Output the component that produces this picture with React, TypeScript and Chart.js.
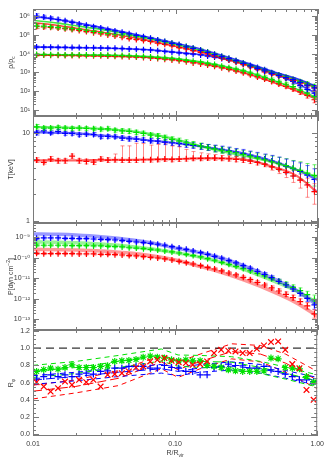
import React, { useEffect, useRef } from 'react';
import { Chart, registerables } from 'chart.js';

Chart.register(...registerables);

// ---------------- data ----------------
const radius = [0.0106, 0.0119, 0.0133, 0.0150, 0.0168, 0.0188, 0.0211, 0.0237, 0.0266, 0.0299,
  0.0335, 0.0376, 0.0422, 0.0473, 0.0531, 0.0596, 0.0668, 0.0750, 0.0841, 0.0944,
  0.106, 0.119, 0.133, 0.150, 0.168, 0.188, 0.211, 0.237, 0.266, 0.299,
  0.335, 0.376, 0.422, 0.473, 0.531, 0.596, 0.668, 0.750, 0.841, 0.944];
const modelRadius = [0.01, 0.015, 0.02, 0.03, 0.05, 0.07, 0.1, 0.15, 0.2, 0.3, 0.5, 0.7, 1.0];
const ratioModelRadius = [0.01, 0.02, 0.04, 0.08, 0.105, 0.15, 0.25, 0.4, 0.6, 1.0];
const xTickValues = [0.01, 0.1, 1.0];

// panel 1: density
const densUpperBlue = [1.0e6, 8.7e5, 7.6e5, 6.5e5, 5.5e5, 4.6e5, 3.7e5, 3.2e5, 2.7e5, 2.3e5,
  1.9e5, 1.6e5, 1.35e5, 1.12e5, 9.3e4, 7.9e4, 6.5e4, 5.2e4, 4.4e4, 3.5e4,
  3.0e4, 2.3e4, 1.9e4, 1.5e4, 1.15e4, 8.9e3, 6.9e3, 5.4e3, 4.2e3, 3.0e3,
  2.2e3, 1.6e3, 1.2e3, 890, 690, 525, 410, 295, 210, 150];
const densUpperGreen = [3.0e5, 2.9e5, 2.7e5, 2.5e5, 2.3e5, 2.1e5, 1.95e5, 1.74e5, 1.5e5, 1.32e5,
  1.17e5, 1.07e5, 9.8e4, 8.9e4, 7.9e4, 7.1e4, 6.2e4, 5.1e4, 4.3e4, 3.5e4,
  2.9e4, 2.4e4, 1.95e4, 1.55e4, 1.2e4, 9.1e3, 7.1e3, 5.4e3, 4.1e3, 3.1e3,
  2.2e3, 1.66e3, 1.26e3, 930, 720, 560, 420, 320, 240, 174];
const densUpperRed = [2.75e5, 2.6e5, 2.5e5, 2.3e5, 2.1e5, 1.9e5, 1.7e5, 1.48e5, 1.29e5, 1.12e5,
  9.8e4, 8.5e4, 7.4e4, 6.3e4, 5.6e4, 5.0e4, 4.4e4, 3.6e4, 3.1e4, 2.6e4,
  2.1e4, 1.78e4, 1.45e4, 1.17e4, 9.5e3, 7.4e3, 5.8e3, 4.5e3, 3.5e3, 2.6e3,
  1.95e3, 1.45e3, 1.07e3, 810, 650, 500, 380, 280, 205, 148];
const densLowerBlue = [2.24e4, 2.19e4, 2.19e4, 2.14e4, 2.14e4, 2.09e4, 2.09e4, 2.04e4, 2.04e4, 2.0e4,
  1.95e4, 1.9e4, 1.86e4, 1.78e4, 1.7e4, 1.62e4, 1.55e4, 1.41e4, 1.29e4, 1.2e4,
  1.1e4, 1.0e4, 9.3e3, 8.5e3, 7.4e3, 6.5e3, 5.5e3, 4.6e3, 3.7e3, 3.0e3,
  2.3e3, 1.8e3, 1.38e3, 950, 690, 500, 330, 200, 126, 79];
const densLowerGreen = [8.9e3, 8.9e3, 8.7e3, 8.7e3, 8.5e3, 8.5e3, 8.5e3, 8.3e3, 8.3e3, 8.3e3,
  8.1e3, 7.9e3, 7.8e3, 7.6e3, 7.2e3, 6.9e3, 6.6e3, 6.2e3, 5.75e3, 5.4e3,
  4.9e3, 4.4e3, 3.9e3, 3.5e3, 2.95e3, 2.6e3, 2.14e3, 1.78e3, 1.48e3, 1.2e3,
  930, 720, 550, 410, 310, 234, 174, 115, 79, 52];
const densLowerRed = [8.3e3, 8.3e3, 8.1e3, 8.1e3, 7.9e3, 7.9e3, 7.8e3, 7.8e3, 7.6e3, 7.6e3,
  7.4e3, 7.2e3, 7.1e3, 6.8e3, 6.5e3, 6.2e3, 5.9e3, 5.5e3, 5.0e3, 4.6e3,
  4.2e3, 3.7e3, 3.2e3, 2.8e3, 2.45e3, 2.1e3, 1.74e3, 1.45e3, 1.17e3, 950,
  740, 575, 440, 330, 245, 182, 132, 91, 60, 35];
const densErrUpper = [0.3, 0.25, 0.22, 0.2, 0.18, 0.16, 0.15, 0.14, 0.13, 0.12,
  0.12, 0.12, 0.12, 0.12, 0.12, 0.12, 0.12, 0.12, 0.12, 0.12,
  0.12, 0.12, 0.12, 0.14, 0.14, 0.14, 0.14, 0.14, 0.15, 0.15,
  0.16, 0.16, 0.18, 0.18, 0.2, 0.22, 0.24, 0.26, 0.3, 0.35];
const densErrLower = [0.12, 0.1, 0.1, 0.1, 0.1, 0.1, 0.1, 0.1, 0.1, 0.1,
  0.1, 0.1, 0.1, 0.1, 0.1, 0.1, 0.1, 0.1, 0.1, 0.1,
  0.1, 0.1, 0.1, 0.1, 0.12, 0.12, 0.12, 0.13, 0.14, 0.15,
  0.16, 0.18, 0.2, 0.22, 0.24, 0.26, 0.3, 0.35, 0.4, 0.45];
const densModelUpperBlue = [9.6e5, 6.4e5, 4.5e5, 2.47e5, 1.13e5, 6.6e4, 3.6e4, 1.77e4, 9.3e3, 3.7e3, 1.03e3, 483, 171];
const densModelUpperGreen = [5.9e5, 4.15e5, 3.0e5, 1.94e5, 9.6e4, 5.6e4, 3.1e4, 1.5e4, 7.9e3, 3.16e3, 950, 430, 158];
const densModelUpperRed = [4.5e5, 3.14e5, 2.24e5, 1.41e5, 7.3e4, 4.4e4, 2.43e4, 1.23e4, 6.5e3, 2.7e3, 813, 380, 140];
const densModelLowerBlue = [2.24e4, 2.15e4, 2.07e4, 2.0e4, 1.77e4, 1.54e4, 1.18e4, 8.9e3, 6.2e3, 3.04e3, 813, 276, 68];
const densModelLowerGreen = [8.9e3, 8.6e3, 8.4e3, 8.3e3, 7.6e3, 6.8e3, 5.5e3, 3.7e3, 2.5e3, 1.21e3, 351, 134, 42];
const densModelLowerRed = [8.3e3, 8.1e3, 7.9e3, 7.6e3, 6.8e3, 6.0e3, 4.7e3, 3.04e3, 2.04e3, 950, 276, 106, 35];
const densTicks = [1e1, 1e2, 1e3, 1e4, 1e5, 1e6];

// panel 2: temperature
const tempGreen = [11.7, 11.3, 11.3, 11.5, 11.3, 11.2, 11.3, 11.2, 11.1, 11.0,
  11.1, 10.7, 10.5, 10.4, 10.1, 9.84, 9.42, 9.18, 8.79, 8.41,
  8.06, 7.71, 7.38, 7.07, 6.83, 6.59, 6.37, 6.15, 5.94, 5.69,
  5.45, 5.21, 4.95, 4.70, 4.46, 4.24, 3.98, 3.75, 3.50, 3.29];
const tempBlue = [10.0, 10.5, 10.0, 10.4, 9.84, 9.84, 9.5, 9.67, 9.59, 9.02,
  9.1, 9.02, 8.71, 8.55, 8.49, 8.27, 8.12, 8.06, 7.85, 7.71,
  7.58, 7.38, 7.19, 7.01, 6.83, 6.65, 6.48, 6.26, 6.04, 5.84,
  5.54, 5.31, 5.04, 4.78, 4.50, 4.20, 3.92, 3.65, 3.32, 2.96];
const tempRed = [4.91, 4.62, 5.04, 4.82, 4.82, 5.45, 4.82, 4.74, 4.66, 5.04,
  4.91, 4.95, 4.91, 4.91, 4.91, 4.95, 4.95, 4.99, 5.04, 4.99,
  5.04, 5.08, 5.13, 5.13, 5.17, 5.17, 5.13, 5.08, 4.99, 4.91,
  4.78, 4.62, 4.42, 4.12, 3.85, 3.56, 3.24, 2.91, 2.56, 2.15];
const tempErr = [0.06, 0.05, 0.05, 0.05, 0.05, 0.05, 0.05, 0.05, 0.05, 0.05,
  0.05, 0.05, 0.06, 0.06, 0.06, 0.06, 0.06, 0.07, 0.07, 0.07,
  0.08, 0.08, 0.08, 0.08, 0.08, 0.09, 0.09, 0.1, 0.1, 0.11,
  0.12, 0.13, 0.14, 0.16, 0.18, 0.2, 0.22, 0.25, 0.28, 0.32];
const tempErrRedUp = [0.3, 0.3, 0.35, 0.3, 0.3, 0.3, 0.3, 0.3, 0.3, 0.3,
  0.3, 0.8, 2.2, 2.2, 2.7, 2.6, 2.3, 2.4, 2.6, 2.1,
  1.9, 1.4, 1.0, 0.8, 0.6, 0.5, 0.4, 0.4, 0.4, 0.4,
  0.4, 0.5, 0.5, 0.5, 0.5, 0.5, 0.5, 0.5, 0.5, 0.5];
const tempErrRedDown = [0.3, 0.2, 0.3, 0.3, 0.3, 0.3, 0.3, 0.3, 0.3, 0.3,
  0.3, 0.3, 0.3, 0.3, 0.3, 0.3, 0.3, 0.3, 0.3, 0.3,
  0.3, 0.3, 0.3, 0.3, 0.3, 0.3, 0.3, 0.3, 0.3, 0.3,
  0.3, 0.3, 0.3, 0.35, 0.4, 0.45, 0.5, 0.55, 0.7, 0.6];
const tempModelGreen = [11.7, 11.5, 11.4, 11.1, 10.4, 9.58, 8.41, 7.07, 6.3, 5.49, 4.58, 3.84, 3.12];
const tempModelBlue = [10.2, 10.0, 9.84, 9.33, 8.63, 8.12, 7.65, 7.01, 6.54, 5.84, 4.70, 3.84, 2.91];
const tempModelRed = [4.87, 4.87, 4.87, 4.91, 4.95, 4.99, 5.04, 5.13, 5.13, 4.99, 4.05, 3.29, 2.09];
const tempTicks = [1, 10];

// panel 3: pressure
const pressBlue = [8.9e-10, 9.3e-10, 9.3e-10, 9.3e-10, 8.9e-10, 8.9e-10, 8.6e-10, 8.6e-10, 8.3e-10, 8.0e-10,
  7.7e-10, 7.4e-10, 6.9e-10, 6.4e-10, 5.9e-10, 5.5e-10, 5.1e-10, 4.6e-10, 4.1e-10, 3.5e-10,
  3.0e-10, 2.6e-10, 2.15e-10, 1.79e-10, 1.48e-10, 1.18e-10, 9.5e-11, 7.3e-11, 5.6e-11, 4.15e-11,
  3.1e-11, 2.2e-11, 1.57e-11, 1.08e-11, 7.1e-12, 4.7e-12, 3.0e-12, 1.85e-12, 1.06e-12, 5.0e-13];
const pressGreen = [4.2e-10, 4.1e-10, 4.1e-10, 4.1e-10, 4.1e-10, 3.9e-10, 3.9e-10, 3.9e-10, 3.8e-10, 3.8e-10,
  3.6e-10, 3.5e-10, 3.4e-10, 3.1e-10, 3.0e-10, 2.8e-10, 2.6e-10, 2.4e-10, 2.15e-10, 1.93e-10,
  1.72e-10, 1.48e-10, 1.28e-10, 1.10e-10, 9.1e-11, 7.6e-11, 6.0e-11, 4.8e-11, 3.85e-11, 3.0e-11,
  2.3e-11, 1.75e-11, 1.3e-11, 9.6e-12, 7.1e-12, 5.1e-12, 3.6e-12, 2.5e-12, 1.6e-12, 9.5e-13];
const pressRed = [1.66e-10, 1.6e-10, 1.6e-10, 1.6e-10, 1.6e-10, 1.6e-10, 1.54e-10, 1.54e-10, 1.54e-10, 1.48e-10,
  1.48e-10, 1.43e-10, 1.37e-10, 1.28e-10, 1.23e-10, 1.14e-10, 1.06e-10, 9.8e-11, 8.8e-11, 7.8e-11,
  6.7e-11, 5.8e-11, 5.0e-11, 4.15e-11, 3.4e-11, 2.85e-11, 2.3e-11, 1.82e-11, 1.46e-11, 1.12e-11,
  8.6e-12, 6.4e-12, 4.7e-12, 3.4e-12, 2.4e-12, 1.66e-12, 1.14e-12, 7.3e-13, 4.5e-13, 1.82e-13];
const pressErr = [0.15, 0.12, 0.12, 0.12, 0.12, 0.12, 0.12, 0.12, 0.12, 0.12,
  0.12, 0.12, 0.12, 0.12, 0.12, 0.12, 0.12, 0.12, 0.12, 0.12,
  0.12, 0.12, 0.12, 0.12, 0.12, 0.14, 0.14, 0.15, 0.16, 0.17,
  0.18, 0.2, 0.22, 0.24, 0.26, 0.3, 0.33, 0.36, 0.45, 0.6];
const pressModelBlue = [1.46e-9, 1.4e-9, 1.3e-9, 1.08e-9, 7.4e-10, 5.1e-10, 3.0e-10, 1.79e-10, 1.06e-10, 4.15e-11, 8.9e-12, 2.7e-12, 4.5e-13];
const pressModelGreen = [6.1e-10, 5.7e-10, 5.5e-10, 4.7e-10, 3.5e-10, 2.6e-10, 1.79e-10, 1.06e-10, 6.5e-11, 2.75e-11, 6.9e-12, 2.5e-12, 6.0e-13];
const pressModelRed = [2.6e-10, 2.5e-10, 2.4e-10, 2.15e-10, 1.66e-10, 1.23e-10, 7.8e-11, 3.7e-11, 2.1e-11, 8.3e-12, 2.0e-12, 6.5e-13, 1.35e-13];
const pressTicks = [1e-13, 1e-12, 1e-11, 1e-10, 1e-9];

// panel 4: ratio
const ratioRed = [0.605, 0.554, 0.496, 0.535, 0.612, 0.574, 0.632, 0.605, 0.632, 0.554,
  0.69, 0.698, 0.709, 0.729, 0.775, 0.787, 0.845, 0.864, 0.884, 0.853,
  0.837, 0.826, 0.806, 0.814, 0.845, 0.942, 0.98, 0.969, 0.961, 0.942,
  0.942, 0.992, 1.03, 1.07, 1.077, 0.98, 0.814, 0.767, 0.515, 0.40];
const ratioGreen = [0.729, 0.75, 0.767, 0.756, 0.775, 0.806, 0.775, 0.775, 0.775, 0.787,
  0.795, 0.845, 0.853, 0.857, 0.868, 0.895, 0.907, 0.895, 0.884, 0.864,
  0.853, 0.864, 0.853, 0.853, 0.80, 0.787, 0.775, 0.748, 0.736, 0.729,
  0.729, 0.729, 0.736, 0.884, 0.876, 0.775, 0.767, 0.76, 0.67, 0.605];
const ratioBlue = [0.65, 0.67, 0.69, 0.67, 0.69, 0.67, 0.698, 0.709, 0.698, 0.729,
  0.736, 0.767, 0.767, 0.787, 0.787, 0.787, 0.767, 0.767, 0.798, 0.775,
  0.767, 0.729, 0.729, 0.69, 0.69, 0.775, 0.787, 0.814, 0.798, 0.795,
  0.767, 0.767, 0.787, 0.748, 0.729, 0.698, 0.67, 0.632, 0.632, 0.612];
const ratioModelGreen = [0.729, 0.775, 0.845, 0.922, 0.853, 0.845, 0.837, 0.775, 0.709, 0.62];
const ratioModelGreenHi = [0.80, 0.845, 0.915, 0.99, 0.92, 0.915, 0.90, 0.845, 0.78, 0.69];
const ratioModelGreenLo = [0.66, 0.705, 0.775, 0.85, 0.79, 0.775, 0.77, 0.705, 0.64, 0.55];
const ratioModelBlue = [0.63, 0.67, 0.72, 0.76, 0.73, 0.77, 0.79, 0.76, 0.70, 0.62];
const ratioModelBlueHi = [0.68, 0.72, 0.77, 0.81, 0.775, 0.81, 0.84, 0.81, 0.74, 0.66];
const ratioModelBlueLo = [0.58, 0.62, 0.67, 0.71, 0.68, 0.72, 0.745, 0.71, 0.65, 0.57];
const ratioModelRed = [0.50, 0.555, 0.65, 0.84, 0.75, 0.845, 0.96, 0.93, 0.825, 0.63];
const ratioModelRedHi = [0.57, 0.63, 0.74, 0.915, 0.84, 0.93, 1.05, 1.03, 0.93, 0.73];
const ratioModelRedLo = [0.41, 0.48, 0.565, 0.76, 0.66, 0.76, 0.875, 0.84, 0.72, 0.53];
const unityX = [0.01, 1.0];
const unityY = [1.0, 1.0];
const ratioTicks = [0, 0.2, 0.4, 0.6, 0.8, 1.0, 1.2];

// ---------------- styling ----------------
const FONT = '"Liberation Sans", Arial, "DejaVu Sans", sans-serif';
const W = 328, H = 459, LEFT = 33, RIGHT = 318;
const RED = [255, 0, 0], GREEN = [0, 225, 0], BLUE = [0, 0, 255];
const col = (c: number[], a = 1) => `rgba(${c[0]},${c[1]},${c[2]},${a})`;
const TEXT = '#3a3a3a';
const PANELS = [[9, 116], [116, 223], [223, 330], [330, 436]];

const SUP: Record<string, string> = { '-': '⁻', '0': '⁰', '1': '¹', '2': '²', '3': '³', '4': '⁴', '5': '⁵', '6': '⁶', '7': '⁷', '8': '⁸', '9': '⁹' };
const pow10 = (v: number) => '10' + String(Math.round(Math.log10(v))).split('').map((c) => SUP[c]).join('');

function logMinors(lo: number, hi: number) {
  const out: number[] = [];
  for (let e = lo; e <= hi; e++) for (let m = 2; m <= 9; m++) out.push(m * Math.pow(10, e));
  return out;
}
const xMinor = logMinors(-2, -1);

type Part = { t: string; sub?: boolean; sup?: boolean };

function drawRich(ctx: CanvasRenderingContext2D, parts: Part[], x: number, y: number, rotate: boolean, size: number) {
  ctx.save();
  ctx.translate(x, y);
  if (rotate) ctx.rotate(-Math.PI / 2);
  const big = `${size}px ${FONT}`;
  const small = `${Math.round(size * 0.72)}px ${FONT}`;
  let total = 0;
  const widths = parts.map((p) => {
    ctx.font = p.sub || p.sup ? small : big;
    const w = ctx.measureText(p.t).width;
    total += w;
    return w;
  });
  let cx = -total / 2;
  ctx.textBaseline = 'middle';
  ctx.textAlign = 'left';
  ctx.fillStyle = TEXT;
  parts.forEach((p, i) => {
    ctx.font = p.sub || p.sup ? small : big;
    const dy = p.sub ? size * 0.35 : p.sup ? -size * 0.38 : 0;
    ctx.fillText(p.t, cx, dy);
    cx += widths[i];
  });
  ctx.restore();
}

const errorPlugin = {
  id: 'errorBars',
  beforeDatasetsDraw(chart: any) {
    const { ctx, chartArea: a, scales } = chart;
    const xs = scales.x, ys = scales.y;
    ctx.save();
    ctx.beginPath();
    ctx.rect(a.left, a.top, a.right - a.left, a.bottom - a.top);
    ctx.clip();
    chart.data.datasets.forEach((ds: any) => {
      if (!ds.errFac && !ds.errUp) return;
      ctx.strokeStyle = ds.errColor;
      ctx.lineWidth = 1;
      ds.data.forEach((p: any, i: number) => {
        const hi = ds.errUp ? p.y + ds.errUp[i] : p.y * (1 + ds.errFac[i]);
        const lo = ds.errDown ? p.y - ds.errDown[i] : p.y / (1 + ds.errFac[i]);
        const px = Math.round(xs.getPixelForValue(p.x)) + 0.5;
        const y1 = ys.getPixelForValue(hi);
        const y2 = ys.getPixelForValue(lo);
        ctx.beginPath();
        ctx.moveTo(px, y1); ctx.lineTo(px, y2);
        ctx.moveTo(px - 2, y1); ctx.lineTo(px + 2, y1);
        ctx.moveTo(px - 2, y2); ctx.lineTo(px + 2, y2);
        ctx.stroke();
      });
    });
    ctx.restore();
  },
};

const framePlugin = {
  id: 'frame',
  afterDatasetsDraw(chart: any, _args: any, opts: any) {
    const { ctx, chartArea: a, scales } = chart;
    const xs = scales.x, ys = scales.y;
    ctx.save();
    ctx.strokeStyle = '#7a7a7a';
    ctx.lineWidth = 1;
    ctx.strokeRect(a.left + 0.5, a.top + 0.5, a.right - a.left - 1, a.bottom - a.top - 1);
    ctx.beginPath();
    const xt = (v: number, len: number) => {
      const px = Math.round(xs.getPixelForValue(v)) + 0.5;
      ctx.moveTo(px, a.bottom); ctx.lineTo(px, a.bottom - len);
      ctx.moveTo(px, a.top); ctx.lineTo(px, a.top + len);
    };
    xTickValues.forEach((v) => xt(v, 5));
    xMinor.forEach((v) => xt(v, 3));
    const yt = (v: number, len: number) => {
      if (v < ys.min || v > ys.max) return;
      const py = Math.round(ys.getPixelForValue(v)) + 0.5;
      ctx.moveTo(a.left, py); ctx.lineTo(a.left + len, py);
      ctx.moveTo(a.right, py); ctx.lineTo(a.right - len, py);
    };
    (opts.yMajor || []).forEach((v: number) => yt(v, 6));
    (opts.yMinor || []).forEach((v: number) => yt(v, 3));
    ctx.stroke();
    ctx.restore();
  },
};

const titlePlugin = {
  id: 'richTitles',
  afterDraw(chart: any, _args: any, opts: any) {
    const a = chart.chartArea;
    if (opts.y) drawRich(chart.ctx, opts.y, 11, (a.top + a.bottom) / 2, true, 7);
    if (opts.x) drawRich(chart.ctx, opts.x, (a.left + a.right) / 2, a.bottom + 17, false, 7);
  },
};

const xy = (xs: number[], ys: number[]) => xs.map((x, i) => ({ x, y: ys[i] }));

const model = (xs: number[], ys: number[], c: number[], a: number, width: number, dash: number[] = [], smooth = true) => ({
  data: xy(xs, ys),
  borderColor: col(c, a),
  borderWidth: width,
  borderDash: dash,
  pointRadius: 0,
  showLine: true,
  fill: false,
  tension: 0,
  cubicInterpolationMode: smooth ? 'monotone' : 'default',
});

const marks = (xs: number[], ys: number[], c: number[], style: string, r: number, extra: any = {}) => ({
  data: xy(xs, ys),
  showLine: false,
  pointStyle: style,
  pointRadius: r,
  pointBorderColor: col(c),
  pointBackgroundColor: col(c),
  pointBorderWidth: 1.2,
  borderColor: col(c),
  backgroundColor: col(c),
  ...extra,
});

function panelSpecs() {
  return [
    {
      yType: 'logarithmic', yMin: 4.8, yMax: 2.35e6, yTicks: densTicks, yLabel: pow10,
      yMinor: logMinors(0, 6),
      yTitle: [{ t: 'ρ/ρ' }, { t: 'c', sub: true }],
      datasets: [
        marks(radius, densUpperBlue, BLUE, 'cross', 3, { errFac: densErrUpper, errColor: col(BLUE, 0.55) }),
        marks(radius, densUpperGreen, GREEN, 'cross', 3, { errFac: densErrUpper, errColor: col(GREEN, 0.55) }),
        marks(radius, densUpperRed, RED, 'cross', 3, { errFac: densErrUpper, errColor: col(RED, 0.55) }),
        marks(radius, densLowerBlue, BLUE, 'cross', 3, { errFac: densErrLower, errColor: col(BLUE, 0.55) }),
        marks(radius, densLowerGreen, GREEN, 'cross', 3, { errFac: densErrLower, errColor: col(GREEN, 0.55) }),
        marks(radius, densLowerRed, RED, 'cross', 3, { errFac: densErrLower, errColor: col(RED, 0.55) }),
        model(modelRadius, densModelUpperBlue, BLUE, 0.75, 1.6),
        model(modelRadius, densModelUpperGreen, GREEN, 0.75, 1.6),
        model(modelRadius, densModelUpperRed, RED, 0.75, 1.6),
        model(modelRadius, densModelLowerBlue, BLUE, 0.75, 1.6),
        model(modelRadius, densModelLowerGreen, GREEN, 0.75, 1.6),
        model(modelRadius, densModelLowerRed, RED, 0.75, 1.6),
      ],
    },
    {
      yType: 'logarithmic', yMin: 0.95, yMax: 15.5, yTicks: tempTicks, yLabel: (v: number) => String(Math.round(v)),
      yMinor: logMinors(0, 0),
      yTitle: [{ t: 'T[keV]' }],
      datasets: [
        marks(radius, tempGreen, GREEN, 'cross', 3, { errFac: tempErr, errColor: col(GREEN, 0.6) }),
        marks(radius, tempBlue, BLUE, 'cross', 3, { errFac: tempErr, errColor: col(BLUE, 0.6) }),
        marks(radius, tempRed, RED, 'cross', 3, { errUp: tempErrRedUp, errDown: tempErrRedDown, errColor: col(RED, 0.45) }),
        model(modelRadius, tempModelGreen, GREEN, 0.6, 2.2),
        model(modelRadius, tempModelBlue, BLUE, 0.6, 2.2),
        model(modelRadius, tempModelRed, RED, 0.6, 2.2),
      ],
    },
    {
      yType: 'logarithmic', yMin: 3.0e-14, yMax: 5.0e-9, yTicks: pressTicks, yLabel: pow10,
      yMinor: logMinors(-14, -9),
      yTitle: [{ t: 'P[dyn cm' }, { t: '−2', sup: true }, { t: ']' }],
      datasets: [
        marks(radius, pressBlue, BLUE, 'cross', 3, { errFac: pressErr, errColor: col(BLUE, 0.55) }),
        marks(radius, pressGreen, GREEN, 'cross', 3, { errFac: pressErr, errColor: col(GREEN, 0.55) }),
        marks(radius, pressRed, RED, 'cross', 3, { errFac: pressErr, errColor: col(RED, 0.55) }),
        model(modelRadius, pressModelBlue, BLUE, 0.4, 3.5),
        model(modelRadius, pressModelGreen, GREEN, 0.4, 3.5),
        model(modelRadius, pressModelRed, RED, 0.4, 3.5),
      ],
    },
    {
      yType: 'linear', yMin: -0.02, yMax: 1.21, yTicks: ratioTicks, yLabel: (v: number) => v.toFixed(1),
      yMinor: [0.05, 0.1, 0.15, 0.25, 0.3, 0.35, 0.45, 0.5, 0.55, 0.65, 0.7, 0.75, 0.85, 0.9, 0.95, 1.05, 1.1, 1.15],
      yTitle: [{ t: 'R' }, { t: 'φ', sub: true }],
      datasets: [
        marks(radius, ratioRed, RED, 'crossRot', 4),
        marks(radius, ratioGreen, GREEN, 'star', 3.5),
        marks(radius, ratioBlue, BLUE, 'cross', 3.5),
        model(unityX, unityY, [0, 0, 0], 1, 1, [8, 5], false),
        model(ratioModelRadius, ratioModelGreen, GREEN, 1, 1, [9, 4], false),
        model(ratioModelRadius, ratioModelGreenHi, GREEN, 1, 1, [5, 4], false),
        model(ratioModelRadius, ratioModelGreenLo, GREEN, 1, 1, [5, 4], false),
        model(ratioModelRadius, ratioModelBlue, BLUE, 1, 1, [9, 4], false),
        model(ratioModelRadius, ratioModelBlueHi, BLUE, 1, 1, [5, 4], false),
        model(ratioModelRadius, ratioModelBlueLo, BLUE, 1, 1, [5, 4], false),
        model(ratioModelRadius, ratioModelRed, RED, 1, 1, [9, 4], false),
        model(ratioModelRadius, ratioModelRedHi, RED, 1, 1, [5, 4], false),
        model(ratioModelRadius, ratioModelRedLo, RED, 1, 1, [5, 4], false),
      ],
    },
  ];
}

function geom(k: number) {
  const [top, bottom] = PANELS[k];
  const last = k === PANELS.length - 1;
  const cTop = Math.max(0, top - 10);
  const cBot = last ? H : bottom + 10;
  return { cTop, h: cBot - cTop, padTop: top - cTop, padBottom: last ? 0 : cBot - bottom, xHeight: last ? H - bottom : 0, last };
}

function buildConfig(spec: any, k: number): any {
  const g = geom(k);
  const tickFont = { size: 7, family: FONT };
  return {
    type: 'line',
    data: { datasets: spec.datasets },
    options: {
      animation: false,
      responsive: false,
      maintainAspectRatio: false,
      events: [],
      layout: { padding: { left: 0, right: W - RIGHT, top: g.padTop, bottom: g.padBottom }, autoPadding: false },
      plugins: {
        legend: { display: false },
        tooltip: { enabled: false },
        frame: { yMajor: spec.yTicks, yMinor: spec.yMinor },
        richTitles: { y: spec.yTitle, x: g.last ? [{ t: 'R/R' }, { t: 'vir', sub: true }] : null },
      },
      scales: {
        x: {
          type: 'logarithmic',
          min: 0.01,
          max: 1,
          display: g.last,
          grid: { display: false, drawTicks: false },
          border: { display: false },
          afterBuildTicks: (s: any) => { s.ticks = xTickValues.map((v) => ({ value: v })); },
          afterFit: (s: any) => { s.height = g.xHeight; },
          ticks: { callback: (v: any) => Number(v).toFixed(2), font: tickFont, color: TEXT, padding: 4, maxRotation: 0, autoSkip: false },
        },
        y: {
          type: spec.yType,
          min: spec.yMin,
          max: spec.yMax,
          grid: { display: false, drawTicks: false },
          border: { display: false },
          afterBuildTicks: (s: any) => { s.ticks = spec.yTicks.map((v: number) => ({ value: v })); },
          afterFit: (s: any) => { s.width = LEFT; },
          ticks: { callback: (v: any) => spec.yLabel(Number(v)), font: tickFont, color: TEXT, padding: 3, autoSkip: false },
        },
      },
    },
    plugins: [errorPlugin, framePlugin, titlePlugin],
  };
}

export default function App() {
  const r0 = useRef<HTMLCanvasElement>(null);
  const r1 = useRef<HTMLCanvasElement>(null);
  const r2 = useRef<HTMLCanvasElement>(null);
  const r3 = useRef<HTMLCanvasElement>(null);
  const refs = [r0, r1, r2, r3];

  useEffect(() => {
    const specs = panelSpecs();
    const charts = specs.map((s, k) => new Chart(refs[k].current as HTMLCanvasElement, buildConfig(s, k)));
    return () => charts.forEach((c) => c.destroy());
  }, []);

  return (
    <div style={{ position: 'absolute', left: 0, top: 0, width: W, height: H, background: '#fff' }}>
      {PANELS.map((_, k) => {
        const g = geom(k);
        return (
          <canvas
            key={k}
            ref={refs[k]}
            width={W}
            height={g.h}
            style={{ position: 'absolute', left: 0, top: g.cTop, width: W, height: g.h }}
          />
        );
      })}
    </div>
  );
}
